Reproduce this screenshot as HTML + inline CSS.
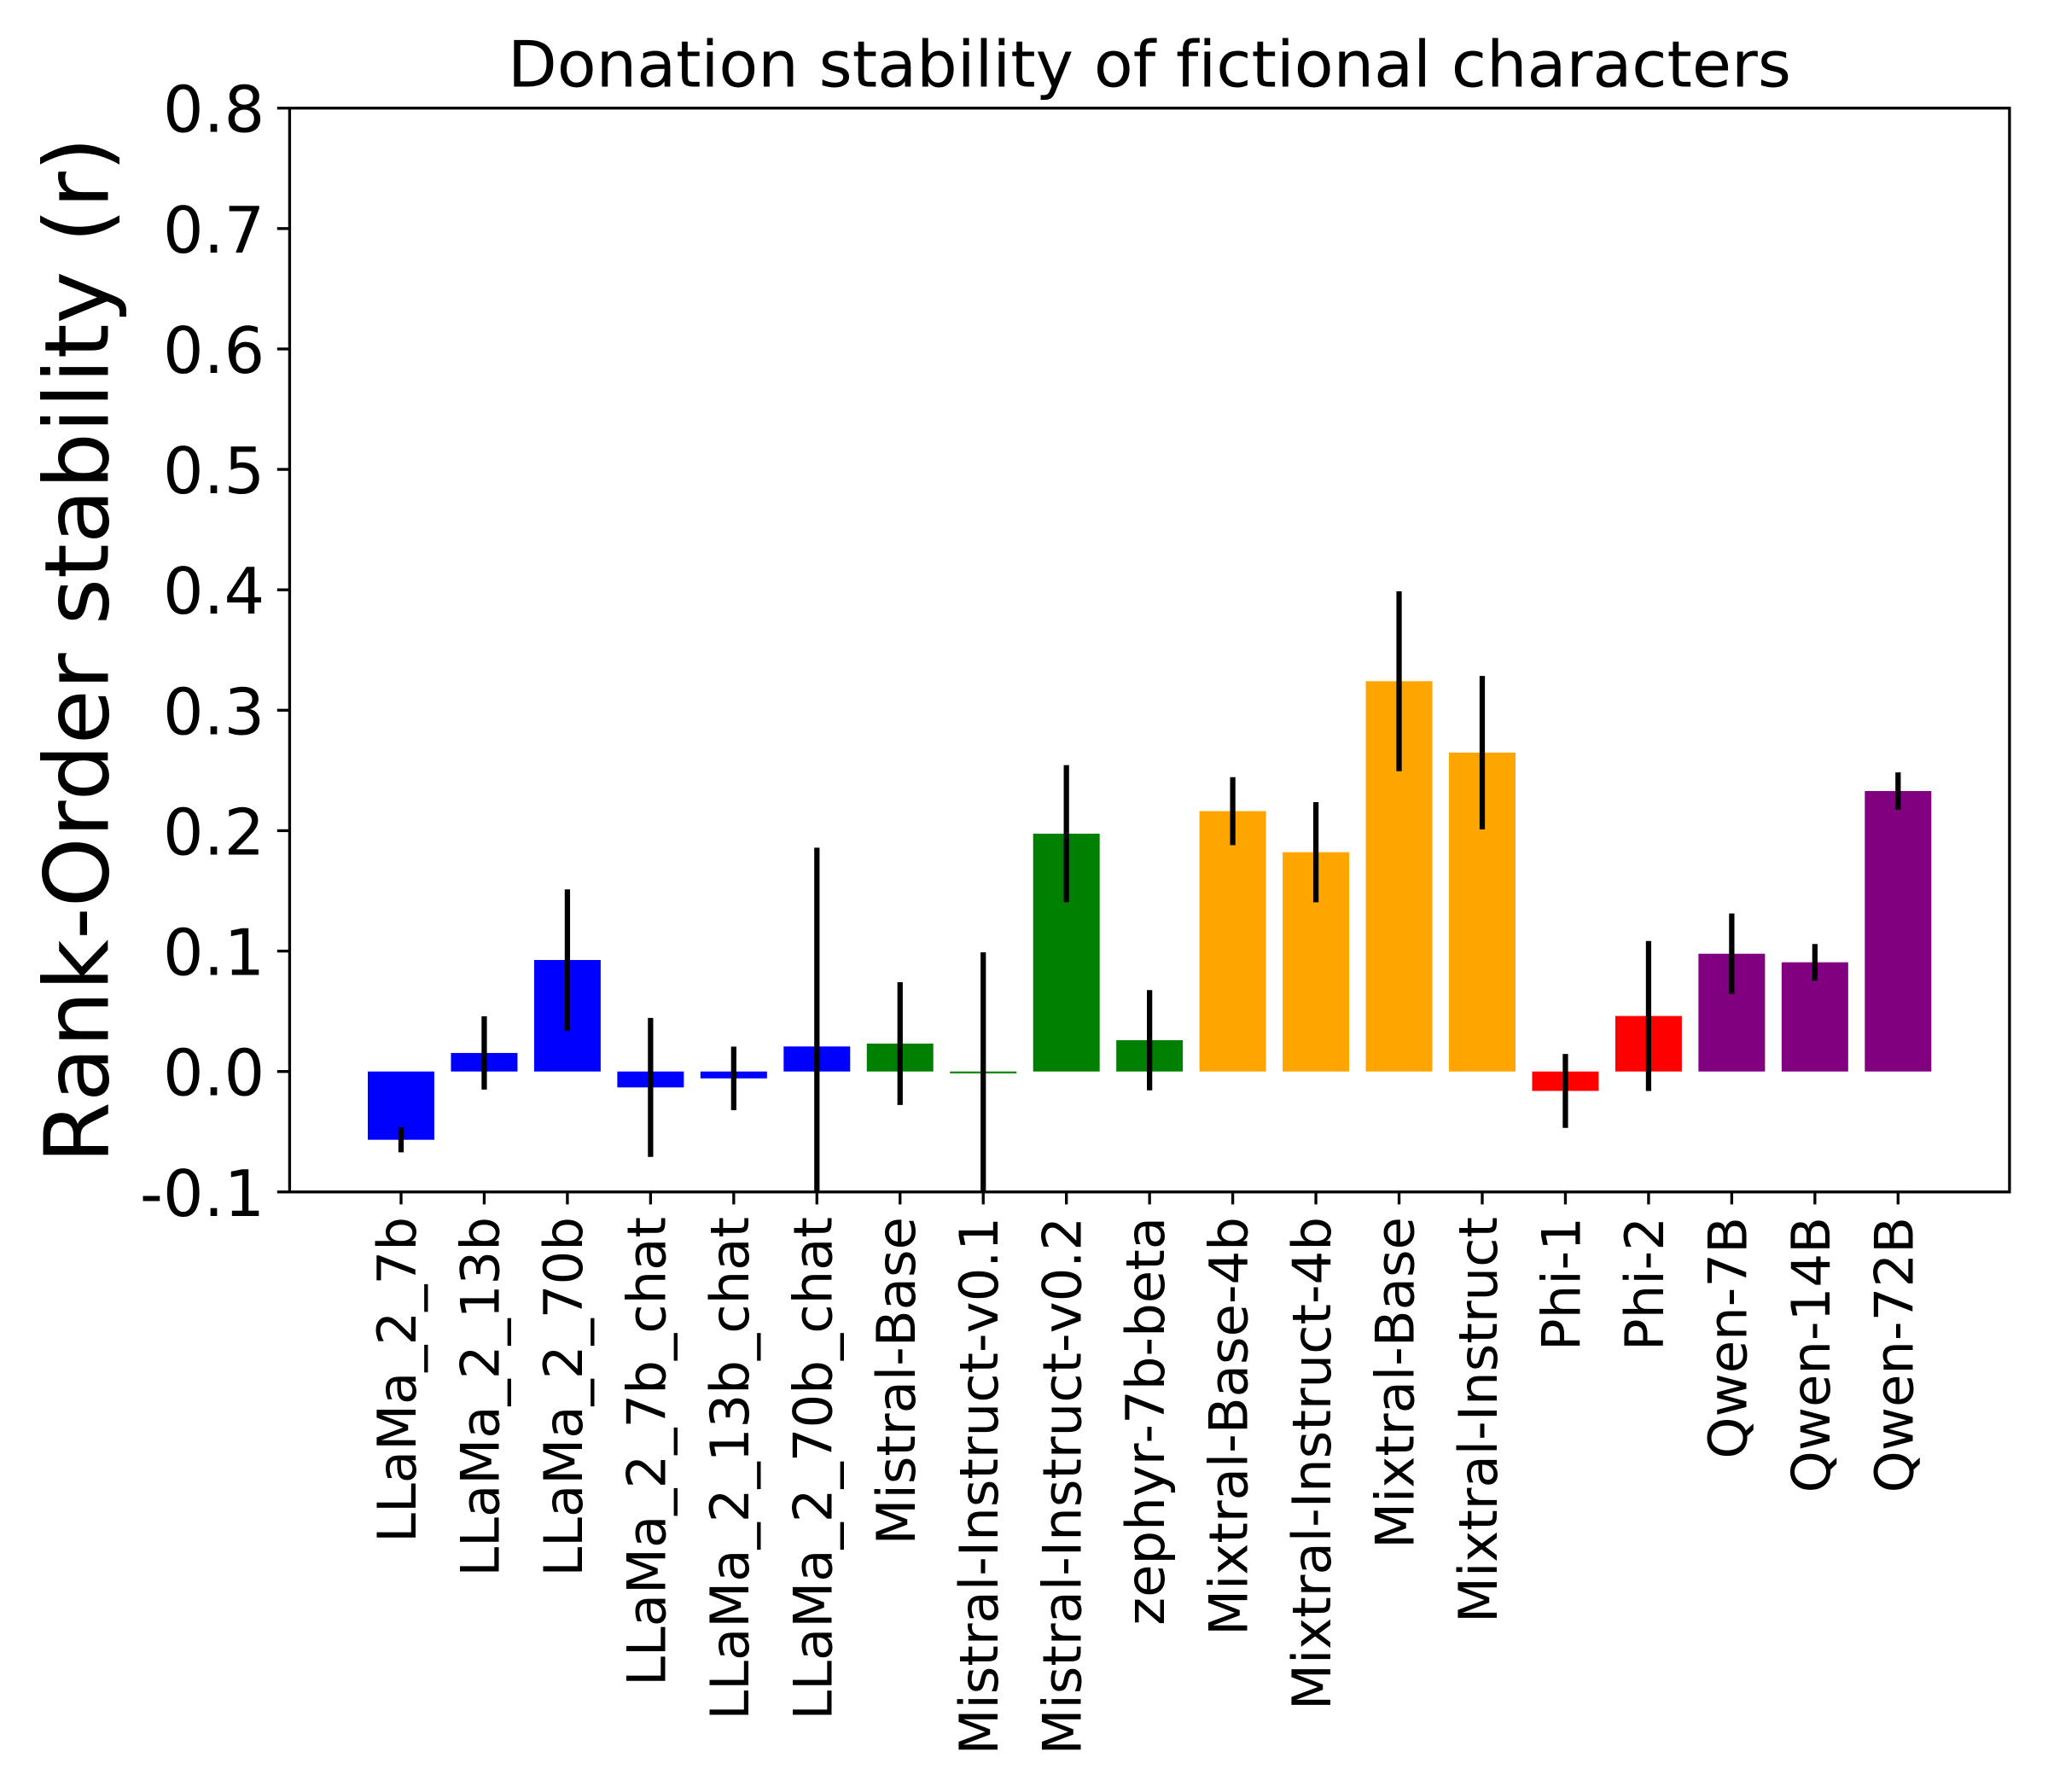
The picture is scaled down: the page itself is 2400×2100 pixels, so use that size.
<!DOCTYPE html>
<html lang="en">
<head>
<meta charset="utf-8">
<title>Donation stability of fictional characters</title>
<style>
html,body{margin:0;padding:0;background:#fff;width:2400px;height:2100px;overflow:hidden}
svg{display:block}
text{font-family:"DejaVu Sans","Liberation Sans",sans-serif;fill:#000;font-variant-ligatures:none;font-kerning:none}
</style>
</head>
<body>
<svg id="chart" xmlns="http://www.w3.org/2000/svg" width="2400" height="2100" viewBox="0 0 2400 2100">
  <rect x="0" y="0" width="2400" height="2100" fill="#fff"/>
  <defs>
    <clipPath id="plot-clip"><rect id="plot-clip-rect" x="339.4" y="126.7" width="2015.5" height="1270.1"/></clipPath>
  </defs>
  <text x="1347" y="101.5" font-size="75" text-anchor="middle">Donation stability of fictional characters</text>
  <text transform="translate(126.5,762) rotate(-90)" font-size="104.2" text-anchor="middle">Rank-Order stability (r)</text>
  <g id="bars" clip-path="url(#plot-clip)"></g>
  <g id="errors" clip-path="url(#plot-clip)"></g>
  <g id="y-axis"></g>
  <g id="x-axis"></g>
  <rect x="339.4" y="126.7" width="2015.5" height="1270.1" fill="none" stroke="#000" stroke-width="3.33"/>
</svg>
<script>
const categories = ["LLaMa_2_7b","LLaMa_2_13b","LLaMa_2_70b","LLaMa_2_7b_chat","LLaMa_2_13b_chat","LLaMa_2_70b_chat","Mistral-Base","Mistral-Instruct-v0.1","Mistral-Instruct-v0.2","zephyr-7b-beta","Mixtral-Base-4b","Mixtral-Instruct-4b","Mixtral-Base","Mixtral-Instruct","Phi-1","Phi-2","Qwen-7B","Qwen-14B","Qwen-72B"];
const families = ["llama","llama","llama","llama","llama","llama","mistral","mistral","mistral","mistral","mixtral","mixtral","mixtral","mixtral","phi","phi","qwen","qwen","qwen"];
const values = [-0.0567,0.0154,0.0926,-0.0132,-0.0057,0.0208,0.0232,-0.0015,0.1975,0.026,0.2162,0.1821,0.3241,0.2648,-0.0161,0.0461,0.0978,0.0907,0.2329];
const errors = [0.0104,0.0304,0.0586,0.0577,0.0264,0.1651,0.051,0.1005,0.0569,0.0416,0.0282,0.0416,0.0747,0.0637,0.0307,0.0623,0.0334,0.0152,0.0155];
const yTicks = [-0.1,0,0.1,0.2,0.3,0.4,0.5,0.6,0.7,0.8];
const yTickLabels = ["-0.1","0.0","0.1","0.2","0.3","0.4","0.5","0.6","0.7","0.8"];
const familyColors = {llama:"#0000ff",mistral:"#008000",mixtral:"#ffa500",phi:"#ff0000",qwen:"#800080"};

const NS = "http://www.w3.org/2000/svg";
const plot = {left:339.4,right:2354.9,top:126.7,bottom:1396.8};
const xDomain = [-1.34,19.34];
const yDomain = [-0.1,0.8];
function xScale(v){return plot.left+(v-xDomain[0])/(xDomain[1]-xDomain[0])*(plot.right-plot.left);}
function yScale(v){return plot.bottom-(v-yDomain[0])/(yDomain[1]-yDomain[0])*(plot.bottom-plot.top);}
function make(tag,attrs,parent){
  const el=document.createElementNS(NS,tag);
  for(const k in attrs){el.setAttribute(k,attrs[k]);}
  parent.appendChild(el);
  return el;
}
const barsG=document.getElementById("bars");
const errorsG=document.getElementById("errors");
const xAxisG=document.getElementById("x-axis");
const yAxisG=document.getElementById("y-axis");
const barWidth=0.8;
const tickLen=14.6;

categories.forEach(function(name,i){
  const y0=yScale(0), y1=yScale(values[i]);
  const bar=make("rect",{x:xScale(i-barWidth/2),y:Math.min(y0,y1),width:xScale(i+barWidth/2)-xScale(i-barWidth/2),height:Math.abs(y1-y0),fill:familyColors[families[i]]},barsG);
  
  

  const err=make("line",{x1:xScale(i),x2:xScale(i),y1:yScale(values[i]+errors[i]),y2:yScale(values[i]-errors[i]),stroke:"#000","stroke-width":6.25},errorsG);
  
  

  const tick=make("line",{x1:xScale(i),x2:xScale(i),y1:plot.bottom,y2:plot.bottom+tickLen,stroke:"#000","stroke-width":3.33},xAxisG);
  
  

  const label=make("text",{transform:"translate("+(xScale(i)+17)+","+(plot.bottom+tickLen+14.6)+") rotate(-90)","font-size":62.5,"text-anchor":"end"},xAxisG);
  label.textContent=name;
  
  
});

yTicks.forEach(function(v,i){
  const y=yScale(v);
  const tick=make("line",{x1:plot.left-tickLen,x2:plot.left,y1:y,y2:y,stroke:"#000","stroke-width":3.33},yAxisG);
  
  

  const label=make("text",{x:plot.left-tickLen-14.6,y:y+28,"font-size":75,"text-anchor":"end"},yAxisG);
  label.textContent=yTickLabels[i];
  
  
});
</script>
</body>
</html>
